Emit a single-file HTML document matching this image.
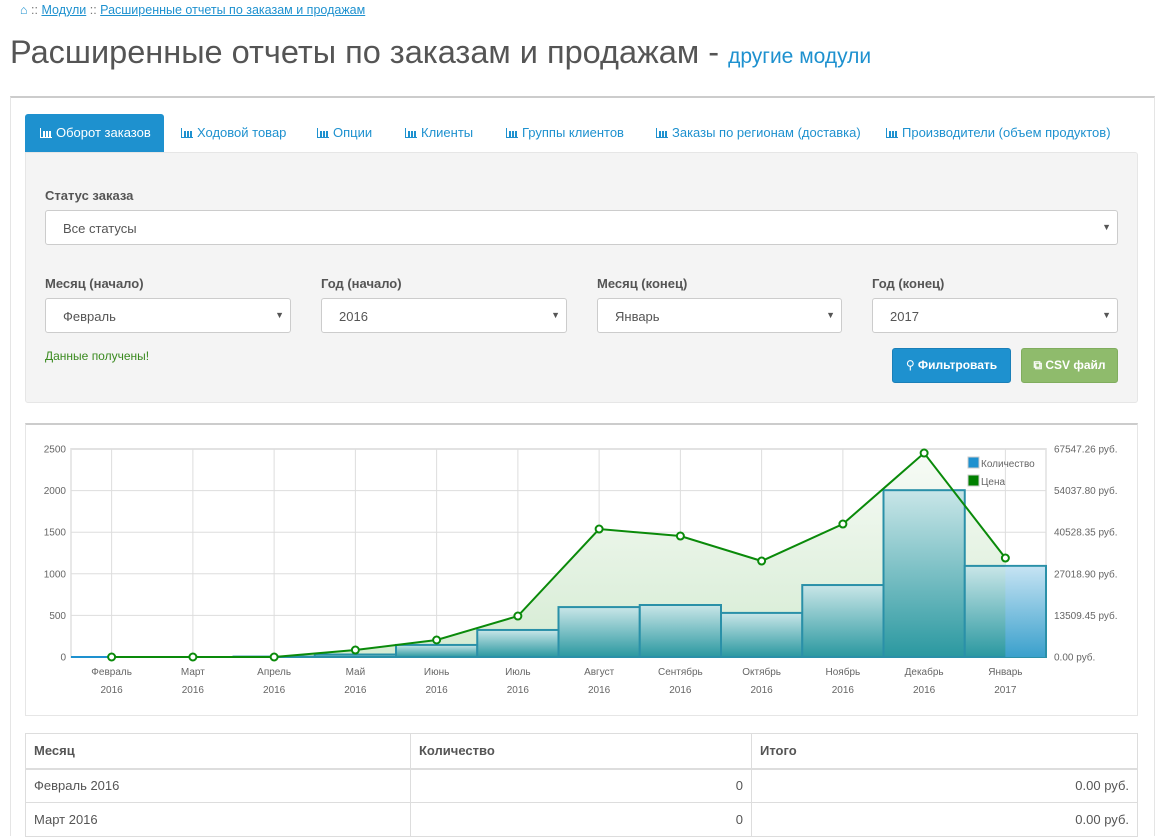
<!DOCTYPE html>
<html><head><meta charset="utf-8">
<style>
*{box-sizing:border-box;margin:0;padding:0}
body{width:1165px;height:831px;overflow:hidden;background:#fff;font-family:"Liberation Sans","DejaVu Sans",sans-serif;color:#555;position:relative;font-size:13px}
.a{position:absolute}
a{color:#1e91cf}
.lbl{font-weight:bold;font-size:13px;color:#555}
.sel{background:#fff;border:1px solid #ccc;border-radius:3px;height:35px;font-size:13px;padding:10px 17px;color:#555}
.sel .ar{position:absolute;right:6px;top:11px;font-size:9px;color:#555}
.tab{top:114px;height:38px;line-height:38px;font-size:13px;color:#1e91cf}
.ico{display:inline-block;width:12px;height:10px;border-bottom:1px solid currentColor;border-left:1px solid currentColor;position:relative;margin-right:4px;vertical-align:-1px;background:linear-gradient(to right,transparent 2px,currentColor 2px,currentColor 4px,transparent 4px,transparent 5px,currentColor 5px,currentColor 7px,transparent 7px,transparent 8px,currentColor 8px,currentColor 10px,transparent 10px) no-repeat bottom/100% 70%}
td,th{border:1px solid #ddd;font-size:13px;color:#555;padding:0 8px;text-align:left}
</style></head><body>
<div class="a" style="left:20px;top:3px;font-size:12.5px;color:#777">
<span style="color:#1e91cf">&#8962;</span> :: <a href="#">Модули</a> :: <a href="#">Расширенные отчеты по заказам и продажам</a></div>
<div class="a" style="left:10px;top:34px;font-size:32.5px;color:#555;white-space:nowrap">Расширенные отчеты по заказам и продажам - <span style="font-size:21px;color:#1e91cf">другие модули</span></div>
<div class="a" style="left:10px;top:96px;width:1145px;height:740px;border-top:2px solid #ccc;border-left:1px solid #e5e5e5;border-right:1px solid #e5e5e5"></div>
<div class="a tab" style="left:25px;width:139px;background:#1e91cf;color:#fff;border-radius:3px 3px 0 0;padding-left:15px"><span class="ico"></span>Оборот заказов</div>
<div class="a tab" style="left:181px"><span class="ico"></span>Ходовой товар</div>
<div class="a tab" style="left:317px"><span class="ico"></span>Опции</div>
<div class="a tab" style="left:405px"><span class="ico"></span>Клиенты</div>
<div class="a tab" style="left:506px"><span class="ico"></span>Группы клиентов</div>
<div class="a tab" style="left:656px"><span class="ico"></span>Заказы по регионам (доставка)</div>
<div class="a tab" style="left:886px"><span class="ico"></span>Производители (объем продуктов)</div>
<div class="a" style="left:25px;top:152px;width:1113px;height:251px;background:#f4f4f4;border:1px solid #e6e6e6;border-radius:0 3px 3px 3px"></div>
<div class="a lbl" style="left:45px;top:188px">Статус заказа</div>
<div class="a sel" style="left:45px;top:210px;width:1073px">Все статусы<span class="ar">▼</span></div>
<div class="a lbl" style="left:45px;top:276px">Месяц (начало)</div>
<div class="a sel" style="left:45px;top:298px;width:246px">Февраль<span class="ar">▼</span></div>
<div class="a lbl" style="left:321px;top:276px">Год (начало)</div>
<div class="a sel" style="left:321px;top:298px;width:246px">2016<span class="ar">▼</span></div>
<div class="a lbl" style="left:597px;top:276px">Месяц (конец)</div>
<div class="a sel" style="left:597px;top:298px;width:245px">Январь<span class="ar">▼</span></div>
<div class="a lbl" style="left:872px;top:276px">Год (конец)</div>
<div class="a sel" style="left:872px;top:298px;width:246px">2017<span class="ar">▼</span></div>
<div class="a" style="left:45px;top:349px;color:#3a8a1f;font-size:12px">Данные получены!</div>
<div class="a" style="left:892px;top:348px;width:119px;height:35px;background:#1e91cf;border:1px solid #1a7fb8;border-radius:3px;color:#fff;font-weight:bold;font-size:12px;text-align:center;line-height:33px">&#9906; Фильтровать</div>
<div class="a" style="left:1021px;top:348px;width:97px;height:35px;background:#8fbb6c;border:1px solid #80ad5e;border-radius:3px;color:#fff;font-weight:bold;font-size:12px;text-align:center;line-height:33px">&#10697; CSV файл</div>
<div class="a" style="left:25px;top:423px;width:1113px;height:293px;border-top:2px solid #ccc;border-left:1px solid #e6e6e6;border-right:1px solid #e6e6e6;border-bottom:1px solid #e6e6e6"></div>
<svg class="a" id="chart" style="left:0;top:0" width="1165" height="720" font-family="Liberation Sans, sans-serif">
<defs>
<linearGradient id="bg" x1="0" y1="0" x2="0" y2="1"><stop offset="0" stop-color="#c9e6e8"/><stop offset="1" stop-color="#2a98a0"/></linearGradient>
<linearGradient id="bg2" x1="0" y1="0" x2="0" y2="1"><stop offset="0" stop-color="#c5e3f3"/><stop offset="1" stop-color="#3aa0cc"/></linearGradient>
<linearGradient id="ag" x1="0" y1="0" x2="0" y2="1"><stop offset="0" stop-color="#f7fbf6"/><stop offset="1" stop-color="#d4ebd2"/></linearGradient>
</defs>
<g id="grid"></g><g id="area"></g><g id="bars"></g><g id="line"></g><g id="labels"></g>
<rect x="968" y="457" width="11" height="11" fill="#1e91cf" stroke="#ccc"/>
<text x="981" y="467" font-size="10" fill="#666">Количество</text>
<rect x="968" y="475" width="11" height="11" fill="#008000" stroke="#ccc"/>
<text x="981" y="485" font-size="10" fill="#666">Цена</text>
</svg>
<table class="a" style="left:25px;top:733px;width:1113px;border-collapse:collapse">
<tr style="height:35px;border-bottom:2px solid #ddd"><th style="width:385px">Месяц</th><th style="width:341px">Количество</th><th>Итого</th></tr>
<tr style="height:34px"><td>Февраль 2016</td><td style="text-align:right">0</td><td style="text-align:right">0.00 руб.</td></tr>
<tr style="height:34px"><td>Март 2016</td><td style="text-align:right">0</td><td style="text-align:right">0.00 руб.</td></tr>
</table>
<script>
const months=["Февраль","Март","Апрель","Май","Июнь","Июль","Август","Сентябрь","Октябрь","Ноябрь","Декабрь","Январь"];
const years=["2016","2016","2016","2016","2016","2016","2016","2016","2016","2016","2016","2017"];
const quantity=[0,0,5,30,145,325,600,625,530,865,2005,1095];
const price=[0,0,0,2270,5520,13300,41560,39290,31170,43180,66230,32140];
const leftTicks=[0,500,1000,1500,2000,2500];
const rightTicks=["0.00 руб.","13509.45 руб.","27018.90 руб.","40528.35 руб.","54037.80 руб.","67547.26 руб."];
const priceMax=67547.26, qMax=2500;
const X0=71,X1=1046,Y0=657,Y1=449,NS="http://www.w3.org/2000/svg";
const step=(X1-X0)/months.length;
const xc=i=>X0+(i+0.5)*step;
const yq=v=>Y0-(v/qMax)*(Y0-Y1);
const yp=v=>Y0-(v/priceMax)*(Y0-Y1);
function mk(t,a,p){const e=document.createElementNS(NS,t);for(const k in a)e.setAttribute(k,a[k]);p.appendChild(e);return e;}
const g=document.getElementById('grid'),ar=document.getElementById('area'),b=document.getElementById('bars'),l=document.getElementById('line'),lb=document.getElementById('labels');
mk('rect',{x:X0,y:Y1,width:X1-X0,height:Y0-Y1,fill:'none',stroke:'#e8e8e8','stroke-width':2},g);
leftTicks.forEach((t,i)=>{const y=yq(t);
 const ln=mk('line',{x1:X0,x2:X1,y1:y,y2:y,stroke:'#ddd'},g);
 
 
 const tx=mk('text',{x:66,y:y+3.5,'text-anchor':'end','font-size':10,fill:'#666'},lb);tx.textContent=t;
 
 
 const tr=mk('text',{x:1054,y:y+3.5,'font-size':10,fill:'#666'},lb);tr.textContent=rightTicks[i];
 
 
});
months.forEach((m,i)=>{const x=xc(i);
 const ln=mk('line',{x1:x,x2:x,y1:Y1,y2:Y0,stroke:'#ddd'},g);
 
 
 const t1=mk('text',{x:x,y:675,'text-anchor':'middle','font-size':10,fill:'#666'},lb);t1.textContent=m;
 
 
 const t2=mk('text',{x:x,y:693,'text-anchor':'middle','font-size':10,fill:'#666'},lb);t2.textContent=years[i];
 
 
});
let pts=price.map((v,i)=>xc(i)+','+yp(v));
const area=mk('polygon',{points:xc(0)+','+Y0+' '+pts.join(' ')+' '+xc(months.length-1)+','+Y0,fill:'url(#ag)'},ar);


mk('line',{x1:X0,x2:xc(0),y1:Y0,y2:Y0,stroke:'#1e91cf','stroke-width':2},b);
quantity.forEach((v,i)=>{const y=yq(v),last=i===quantity.length-1;
 const r=mk('rect',{x:xc(i)-step/2,y:y,width:step,height:Y0-y,fill:'url(#bg)',stroke:'#2a90a8','stroke-width':2},b);
 
 
 if(last){mk('rect',{x:xc(i),y:y+1,width:step/2-1,height:Y0-y-1,fill:'url(#bg2)'},b);}
});
const pl=mk('polyline',{points:pts.join(' '),fill:'none',stroke:'#0a8a0a','stroke-width':2},l);


price.forEach((v,i)=>{const c=mk('circle',{cx:xc(i),cy:yp(v),r:3.5,fill:'#fff',stroke:'#0a8a0a','stroke-width':2},l);
 
 
});
</script>
</body></html>
